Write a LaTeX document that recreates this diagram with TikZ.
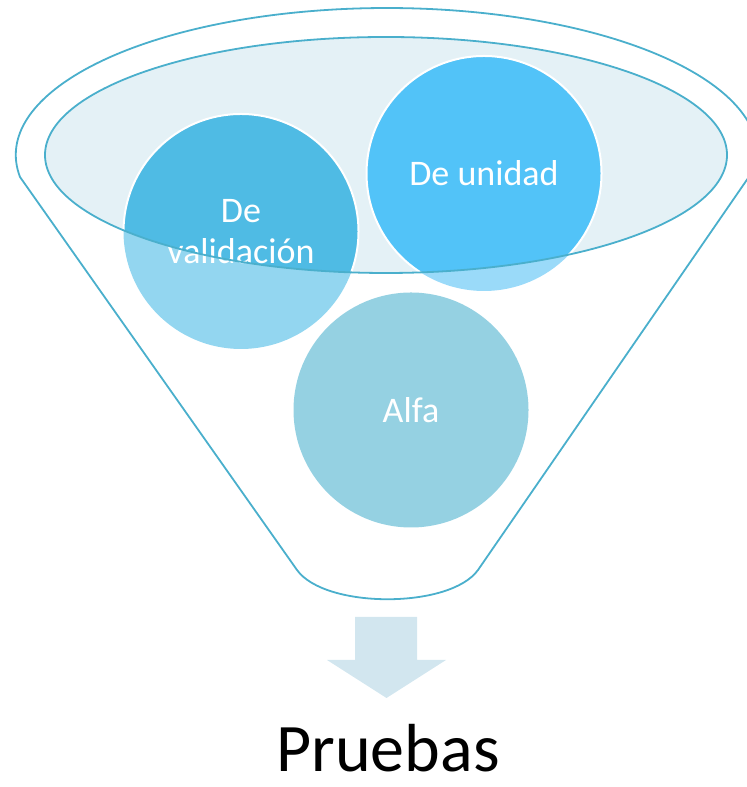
\documentclass[tikz,border=0pt]{standalone}
\usepackage{fontspec}
\setmainfont{Carlito}
\definecolor{rim}{HTML}{4AAFCC}
\definecolor{tray}{HTML}{E4F1F6}
\definecolor{valdark}{HTML}{4FBBE4}
\definecolor{vallight}{HTML}{93D6F0}
\definecolor{unidark}{HTML}{52C3F8}
\definecolor{unilight}{HTML}{9ADAF9}
\definecolor{alfacol}{HTML}{95D1E2}
\definecolor{arrowcol}{HTML}{D2E6EF}
\begin{document}
\begin{tikzpicture}[x=.75pt, y=.75pt,
    rimline/.style={draw=rim, line width=1.35pt},
    ball/.style={draw=white, line width=1.5pt},
    balltext/.style={text=white, font=\fontsize{27}{30.75}\selectfont, align=center}]
\useasboundingbox (0,0) rectangle (746,787);
% funnel tray
\fill[tray] (386,632) ellipse [x radius=341, y radius=118];
\draw[rimline] (297,217)--(20,610) arc[start angle=188.6, end angle=-4, x radius=371, y radius=147]
    --(478,217) .. controls (450,178) and (325,178) .. (297,217);
% circles
\coordinate (val) at (241,555.5);
\coordinate (uni) at (484,613.5);
\coordinate (alfa) at (411,377);
\fill[vallight] (val) circle (117.5);
\fill[unilight] (uni) circle (117.5);
\fill[alfacol] (alfa) circle (117.5);
\begin{scope}
    \clip (386,632) ellipse [x radius=341, y radius=118];
    \filldraw[ball, fill=valdark] (val) circle (117.5);
    \filldraw[ball, fill=unidark] (uni) circle (117.5);
\end{scope}
\node[balltext] (valtext) at (val) {De\\validación};
\node[balltext] (unitext) at (uni) {De unidad};
\node[balltext] (alfatext) at (alfa) {Alfa};
\draw[rimline] (386,632) ellipse [x radius=341, y radius=118];
% arrow and result
\fill[arrowcol] (355,170)--(417,170)--(417,127)--(446,127)--(386.5,89)--(327,127)--(355,127)--cycle;
\node[anchor=base, inner sep=0pt, font=\fontsize{51}{60}\selectfont] (result) at (388,15) {Pruebas};
\end{tikzpicture}
\end{document}
